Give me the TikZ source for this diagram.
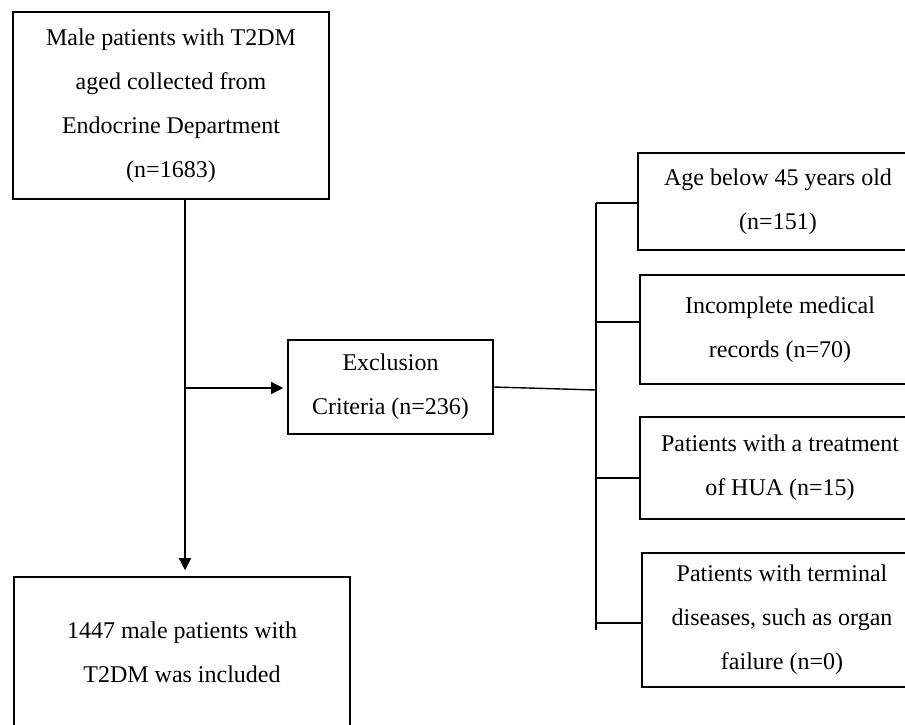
\documentclass[tikz,border=0pt]{standalone}
\usepackage{fontspec}
\setmainfont{Liberation Serif}
\usetikzlibrary{arrows.meta}

\begin{document}
\begin{tikzpicture}[x=1pt, y=-1pt,
	box/.style={draw, black, line width=1.6pt, align=center, inner sep=0pt, font=\fontsize{24}{44}\selectfont},
	link/.style={black, line width=1.4pt},
	arr/.style={link, -{Triangle[length=12pt, width=12pt]}}]
	\useasboundingbox (0,0) rectangle (905,724);
	% left column
	\node[box, minimum width=316pt, minimum height=187pt] (start) at (171,105.5) {Male patients with T2DM\\aged collected from\\Endocrine Department\\(n=1683)};
	\node[box, minimum width=336pt, minimum height=150pt] (incl) at (182,652) {1447 male patients with\\T2DM was included};
	\node[box, minimum width=205pt, minimum height=94pt] (excl) at (390.5,387) {Exclusion\\Criteria (n=236)};
	% exclusion criteria
	\node[box, minimum width=280pt, minimum height=97pt] (c1) at (778,201.5) {Age below 45 years old\\(n=151)};
	\node[box, minimum width=280pt, minimum height=109pt] (c2) at (780,329.5) {Incomplete medical\\records (n=70)};
	\node[box, minimum width=280pt, minimum height=102pt] (c3) at (780,468) {Patients with a treatment\\of HUA (n=15)};
	\node[box, minimum width=280pt, minimum height=134pt] (c4) at (782,620) {Patients with terminal\\diseases, such as organ\\failure (n=0)};
	\coordinate (split) at (185,388);
	\coordinate (join) at (596,390);
	\coordinate (bartop) at (596,203);
	\coordinate (barbot) at (596,630);
	\draw[arr, shorten >=6pt] (start.south -| split) -- (incl.north -| split);
	\draw[arr, shorten >=4pt] (split) -- (excl.west |- split);
	\draw[link] (excl.east) -- (join);
	\draw[link] (bartop) -- (barbot);
	\foreach \i/\y in {1/203, 2/322, 3/478, 4/623}{
		\draw[link] (596,\y) -- (c\i.west |- 0,\y);
	}
\end{tikzpicture}
\end{document}
